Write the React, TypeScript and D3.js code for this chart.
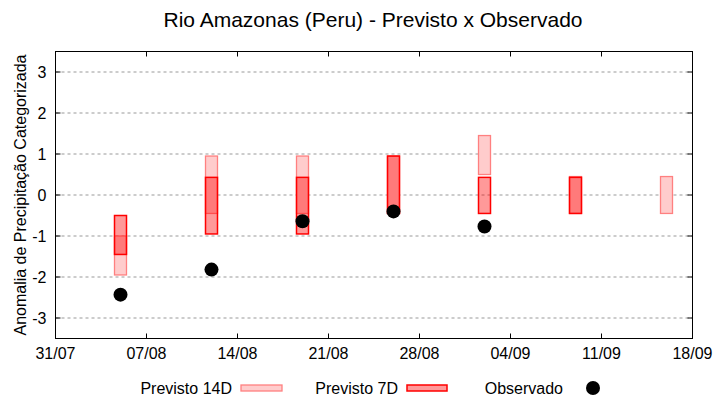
import { useEffect, useRef } from "react";
import * as d3 from "d3";

// week start dates for the forecasts (dd/mm)
const weeks = ["05/08", "12/08", "19/08", "26/08", "02/09", "09/09", "16/09"];
// 14-day forecast range [low, high]
const prev14Low = [-1.95, -0.45, -0.45, -0.45, 0.5, -0.45, -0.45];
const prev14High = [-1.0, 0.95, 0.95, 0.95, 1.45, 0.45, 0.45];
// 7-day forecast range (no 7D for last week)
const prev7Low = [-1.45, -0.95, -0.95, -0.45, -0.45, -0.45, null];
const prev7High = [-0.5, 0.43, 0.43, 0.95, 0.43, 0.43, null];
// observed anomaly
const observado = [-2.43, -1.82, -0.64, -0.4, -0.77, null, null];

const xTicks = ["31/07", "07/08", "14/08", "21/08", "28/08", "04/09", "11/09", "18/09"];
const yTicks = [-3, -2, -1, 0, 1, 2, 3];

const FONT = "'Liberation Sans', Arial, sans-serif";
const parse = d3.timeParse("%d/%m/%Y");
const toDate = (s: string) => parse(`${s}/2023`) as Date;

export default function App() {
  const svgRef = useRef<SVGSVGElement>(null);

  useEffect(() => {
    const width = 720;
    const height = 400;
    const margin = { top: 51.5, right: 27.5, bottom: 61.5, left: 55.5 };
    const chartW = width - margin.left - margin.right;
    const chartH = height - margin.top - margin.bottom;

    const svg = d3.select(svgRef.current!);
    svg.selectAll("*").remove();

    const x = d3
      .scaleTime()
      .domain([toDate(xTicks[0]), toDate(xTicks[xTicks.length - 1])])
      .range([margin.left, margin.left + chartW]);
    const y = d3.scaleLinear().domain([-3.5, 3.5]).range([margin.top + chartH, margin.top]);

    // grid
    svg
      .append("g")
      .selectAll("line")
      .data(yTicks)
      .join("line")
      .attr("x1", margin.left)
      .attr("x2", margin.left + chartW)
      .attr("y1", (d) => y(d))
      .attr("y2", (d) => y(d))
      .attr("stroke", "#999")
      .attr("stroke-width", 1)
      .attr("stroke-dasharray", "3,3");

    const barW = 12;

    // 14D bars
    svg
      .append("g")
      .selectAll("rect")
      .data(weeks.map((w, i) => ({ w, lo: prev14Low[i], hi: prev14High[i] })))
      .join("rect")
      .attr("x", (d) => x(toDate(d.w)) - barW / 2)
      .attr("y", (d) => y(d.hi))
      .attr("width", barW)
      .attr("height", (d) => y(d.lo) - y(d.hi))
      .attr("fill", "#ffcccc")
      .attr("stroke", "#ff8080")
      .attr("stroke-width", 1.3);

    // 7D bars
    svg
      .append("g")
      .selectAll("rect")
      .data(
        weeks
          .map((w, i) => ({ w, lo: prev7Low[i], hi: prev7High[i] }))
          .filter((d) => d.lo !== null && d.hi !== null)
      )
      .join("rect")
      .attr("x", (d) => x(toDate(d.w)) - barW / 2)
      .attr("y", (d) => y(d.hi as number))
      .attr("width", barW)
      .attr("height", (d) => y(d.lo as number) - y(d.hi as number))
      .attr("fill", "rgba(255,0,0,0.4)")
      .attr("stroke", "#ff0000")
      .attr("stroke-width", 1.5);

    // observed
    svg
      .append("g")
      .selectAll("circle")
      .data(
        weeks.map((w, i) => ({ w, v: observado[i] })).filter((d) => d.v !== null)
      )
      .join("circle")
      .attr("cx", (d) => x(toDate(d.w)))
      .attr("cy", (d) => y(d.v as number))
      .attr("r", 7)
      .attr("fill", "#000");

    // frame
    svg
      .append("rect")
      .attr("x", margin.left)
      .attr("y", margin.top)
      .attr("width", chartW)
      .attr("height", chartH)
      .attr("fill", "none")
      .attr("stroke", "#000")
      .attr("stroke-width", 1);

    const tickLen = 5;
    // y ticks (both sides, inward)
    const yt = svg.append("g");
    yTicks.forEach((t) => {
      yt.append("line")
        .attr("x1", margin.left)
        .attr("x2", margin.left + tickLen)
        .attr("y1", y(t))
        .attr("y2", y(t))
        .attr("stroke", "#000");
      yt.append("line")
        .attr("x1", margin.left + chartW)
        .attr("x2", margin.left + chartW - tickLen)
        .attr("y1", y(t))
        .attr("y2", y(t))
        .attr("stroke", "#000");
      yt.append("text")
        .attr("x", margin.left - 9)
        .attr("y", y(t))
        .attr("dy", "0.36em")
        .attr("text-anchor", "end")
        .style("font-family", FONT)
        .style("font-size", "16px")
        .text(String(t));
    });

    // x ticks (bottom and top, inward)
    const xt = svg.append("g");
    xTicks.forEach((t) => {
      const px = x(toDate(t));
      xt.append("line")
        .attr("x1", px)
        .attr("x2", px)
        .attr("y1", margin.top + chartH)
        .attr("y2", margin.top + chartH - tickLen)
        .attr("stroke", "#000");
      xt.append("line")
        .attr("x1", px)
        .attr("x2", px)
        .attr("y1", margin.top)
        .attr("y2", margin.top + tickLen)
        .attr("stroke", "#000");
      xt.append("text")
        .attr("x", px)
        .attr("y", margin.top + chartH + 20)
        .attr("text-anchor", "middle")
        .style("font-family", FONT)
        .style("font-size", "16px")
        .text(t);
    });

    // title
    svg
      .append("text")
      .attr("x", 373)
      .attr("y", 27)
      .attr("text-anchor", "middle")
      .style("font-family", FONT)
      .style("font-size", "21px")
      .text("Rio Amazonas (Peru) - Previsto x Observado");

    // y label
    svg
      .append("text")
      .attr("transform", `translate(26,${margin.top + chartH / 2}) rotate(-90)`)
      .attr("text-anchor", "middle")
      .style("font-family", FONT)
      .style("font-size", "16px")
      .text("Anomalia de Precipitação Categorizada");

    // legend
    const lg = svg.append("g");
    const ly = 388;
    const legendText = (xEnd: number, s: string) =>
      lg
        .append("text")
        .attr("x", xEnd)
        .attr("y", ly)
        .attr("dy", "0.36em")
        .attr("text-anchor", "end")
        .style("font-family", FONT)
        .style("font-size", "16px")
        .text(s);
    legendText(232, "Previsto 14D");
    lg.append("rect")
      .attr("x", 241)
      .attr("y", ly - 3)
      .attr("width", 41)
      .attr("height", 6)
      .attr("fill", "#ffcccc")
      .attr("stroke", "#ff8080")
      .attr("stroke-width", 1.3);
    legendText(398, "Previsto 7D");
    lg.append("rect")
      .attr("x", 407)
      .attr("y", ly - 3)
      .attr("width", 40)
      .attr("height", 6)
      .attr("fill", "rgba(255,0,0,0.4)")
      .attr("stroke", "#ff0000")
      .attr("stroke-width", 1.5);
    legendText(563, "Observado");
    lg.append("circle").attr("cx", 593).attr("cy", ly).attr("r", 7).attr("fill", "#000");
  }, []);

  return (
    <div style={{ position: "absolute", left: 0, top: 0 }}>
      <svg ref={svgRef} width={720} height={400} style={{ display: "block", background: "#fff" }} />
    </div>
  );
}
